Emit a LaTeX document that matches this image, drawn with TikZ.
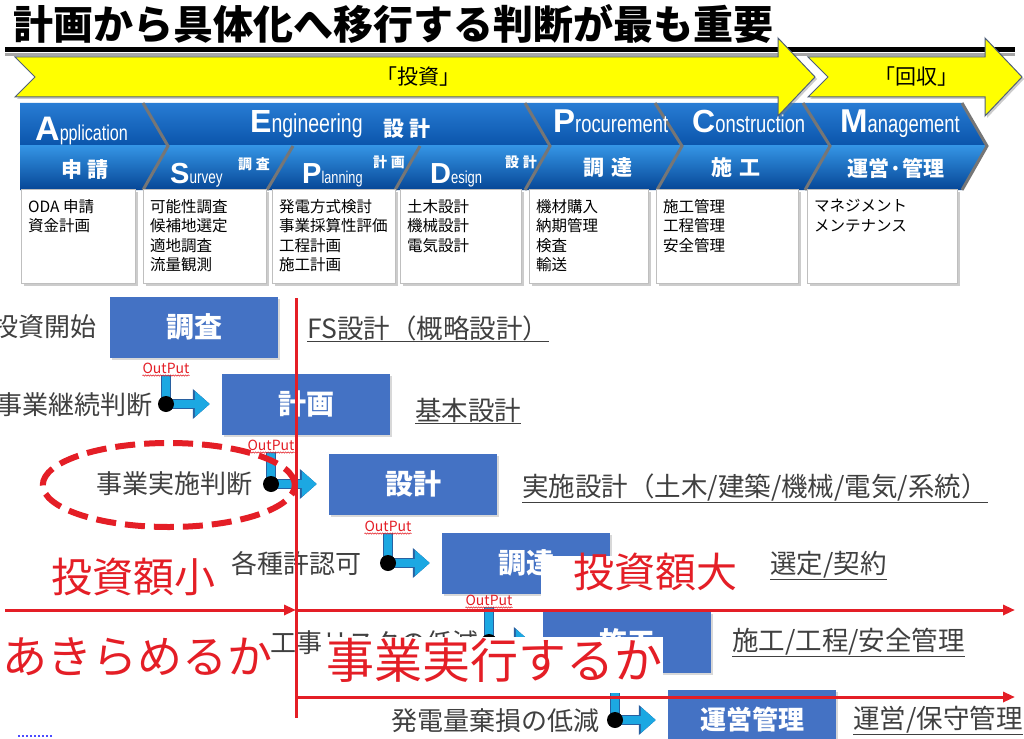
\documentclass[tikz,border=0pt]{standalone}
\usepackage{fontspec}
\setmainfont{Noto Sans CJK JP}
\newfontfamily\latinfont{Liberation Sans}
\newfontfamily\narrowfont[FakeStretch=0.75]{Liberation Sans}
\usetikzlibrary{arrows.meta, positioning, shadows, decorations.pathmorphing}

\definecolor{procblue}{RGB}{68,114,196}
\definecolor{alertred}{RGB}{228,30,38}
\definecolor{flowcyan}{RGB}{28,168,226}
\definecolor{flowedge}{RGB}{40,96,160}
\definecolor{labelgray}{RGB}{64,64,64}
\definecolor{bandedge}{RGB}{118,118,118}
\definecolor{bandtopA}{RGB}{40,124,212}
\definecolor{bandbotA}{RGB}{10,84,170}
\definecolor{bandtopB}{RGB}{52,148,228}
\definecolor{bandbotB}{RGB}{6,70,150}
\definecolor{chevronyellow}{RGB}{255,255,0}
\definecolor{chevronedge}{RGB}{80,96,120}

% big initial letter, rest condensed
\newcommand{\initword}[4]{{\latinfont\bfseries\fontsize{#1}{#1}\selectfont #2}{\narrowfont\fontsize{#3}{#3}\selectfont #4}}

\tikzset{
  chevron/.style={fill=chevronyellow, draw=chevronedge, line width=1pt,
    drop shadow={shadow xshift=2pt, shadow yshift=-2pt, opacity=0.4}},
  sep/.style={draw=bandedge, line width=3pt},
  bannerword/.style={text=white, inner sep=0pt, anchor=base west},
  bannerjp/.style={text=white, inner sep=0pt, font=\fontsize{21}{21}\selectfont\bfseries},
  bannersub/.style={text=white, inner sep=0pt, font=\fontsize{14}{14}\selectfont\bfseries},
  infobox/.style={fill=white, draw=black!25, line width=0.6pt,
    drop shadow={shadow xshift=3pt, shadow yshift=-3pt, opacity=0.4}},
  boxtext/.style={anchor=north west, align=left, inner sep=0pt,
    font=\fontsize{15.5}{19.5}\selectfont},
  procbox/.style={fill=procblue, text=white, minimum width=168pt, minimum height=61pt,
    inner sep=0pt, font=\fontsize{28}{28}\selectfont\bfseries,
    drop shadow={shadow xshift=2pt, shadow yshift=-2pt, opacity=0.3}},
  sidelabel/.style={text=labelgray, inner sep=0pt, font=\fontsize{26}{26}\selectfont},
  deliv/.style={text=labelgray, anchor=west, inner xsep=0pt, inner ysep=1pt,
    font=\fontsize{26.5}{26.5}\selectfont},
  outlabel/.style={text=alertred, inner sep=0pt, font=\fontsize{14}{14}\selectfont},
  wavy/.style={alertred, line width=0.5pt, decorate,
    decoration={snake, amplitude=0.7pt, segment length=2.5pt}},
  outarrow/.style={draw=flowcyan, line width=8pt, -{Triangle[length=15pt,width=25pt]},
    preaction={draw=flowedge, line width=10pt, -{Triangle[length=17pt,width=29pt]}}},
  bigred/.style={text=alertred, inner sep=0pt},
  redline/.style={draw=alertred, line width=3pt},
  redarrow/.style={redline, -{Triangle[length=12pt,width=10pt]}}
}

\begin{document}
\begin{tikzpicture}[x=1pt, y=-1pt]
  \useasboundingbox (0,0) rectangle (1024,738);
  \fill[white] (0,0) rectangle (1024,738);

  % title
  \node[anchor=west, inner sep=0pt, font=\fontsize{40}{40}\selectfont\bfseries] (title)
    at (13,24) {計画から具体化へ移行する判断が最も重要};

  % blue phase band
  \begin{scope}
    \clip (20,103) -- (962,103) -- (987,146) -- (962,190) -- (20,190) -- cycle;
    \fill[top color=bandtopA, bottom color=bandbotA] (20,103) rectangle (990,146);
    \fill[top color=bandtopB, bottom color=bandbotB] (20,146) rectangle (990,190);
  \end{scope}
  \foreach \xa/\xb/\xc in {143/168/143, 525/550/525, 655/682/657, 803/830/805, 962/987/962}
    \draw[sep] (\xa,103) -- (\xb,146) -- (\xc,190);
  \foreach \xa/\xb in {293/267, 420/395}
    \draw[sep] (\xa,146) -- (\xb,190);

  \node[bannerword] (app) at (35,141) {\initword{34}{A}{21.5}{pplication}};
  \node[bannerjp] (shinsei) at (85,170) {申\hspace{5pt}請};
  \node[bannerword] (eng) at (250,133) {\initword{32}{E}{26}{ngineering}};
  \node[bannerjp] (engjp) at (407,129) {設\hspace{5pt}計};
  \node[bannerword] (srv) at (170,183) {\initword{29}{S}{18}{urvey}};
  \node[bannersub] (srvjp) at (254,164) {調\hspace{4pt}査};
  \node[bannerword] (pln) at (302,183) {\initword{29}{P}{17}{lanning}};
  \node[bannersub] (plnjp) at (389,162) {計\hspace{4pt}画};
  \node[bannerword] (dsn) at (430,183) {\initword{29}{D}{17.3}{esign}};
  \node[bannersub] (dsnjp) at (521,162) {設\hspace{4pt}計};
  \node[bannerword] (prc) at (553,133) {\initword{33}{P}{24.5}{rocurement}};
  \node[bannerjp] (prcjp) at (608,168) {調\hspace{7pt}達};
  \node[bannerword] (cns) at (692,133) {\initword{32}{C}{24.5}{onstruction}};
  \node[bannerjp] (cnsjp) at (736,168) {施\hspace{7pt}工};
  \node[bannerword] (mgt) at (840,133) {\initword{33}{M}{24.5}{anagement}};
  \node[bannerjp] (mgtjp) at (896,168) {運営·管理};

  % rule under the title and the yellow phase arrows
  \draw[line width=3pt, black!35] (5,55) -- (1015,55);
  \draw[line width=5pt] (5,50) -- (1015,50);
  \fill[chevron] (15,57) -- (778,57) -- (778,38) -- (815,77) -- (778,116)
    -- (778,97) -- (15,97) -- (35,77) -- cycle;
  \fill[chevron] (808,57) -- (985,57) -- (985,38) -- (1022,77) -- (985,116)
    -- (985,97) -- (808,97) -- (828,77) -- cycle;
  \node[font=\fontsize{21}{21}\selectfont] (toshi) at (418,77) {「投資」};
  \node[font=\fontsize{21}{21}\selectfont] (kaishu) at (916,77) {「回収」};

  % task boxes
  \foreach \xa/\xb/\n/\txt in {
      21/135/appl/{ODA 申請\\資金計画},
      143/266/surv/{可能性調査\\候補地選定\\適地調査\\流量観測},
      272/395/plan/{発電方式検討\\事業採算性評価\\工程計画\\施工計画},
      400/521/desg/{土木設計\\機械設計\\電気設計},
      529/648/proc/{機材購入\\納期管理\\検査\\輸送},
      656/798/cons/{施工管理\\工程管理\\安全管理},
      807/957/mgmt/{マネジメント\\メンテナンス}} {
    \draw[infobox] (\xa,189) rectangle (\xb,283);
    \node[boxtext] (\n) at (\xa+7,199) {\txt};
  }

  % process steps
  \node[procbox] (chosa) at (194,327) {調査};
  \node[procbox] (keikaku) at (306,404) {計画};
  \node[procbox] (sekkei) at (413,484) {設計};
  \node[procbox] (chotatsu) at (526,563) {調達};
  \node[procbox] (seko) at (627,642) {施工};
  \node[procbox, font=\fontsize{26}{26}\selectfont\bfseries] (unei) at (752,720) {運営管理};

  % outputs
  \coordinate (o1) at (166,375);
  \coordinate (o2) at (271,452);
  \coordinate (o3) at (388,533);
  \coordinate (o4) at (489,607);
  \coordinate (o5) at (615,675);
  \foreach \o/\nxt in {o1/keikaku, o2/sekkei, o3/chotatsu, o4/seko, o5/unei} {
    \draw[outarrow] (\o) |- ([xshift=-12pt]\nxt.west);
    \fill (\o |- \nxt.west) circle (8pt);
  }
  \foreach \o/\n in {o1/out1, o2/out2, o3/out3, o4/out4} {
    \node[outlabel, above=1pt of \o] (\n) {OutPut};
    \draw[wavy] ([yshift=-1.5pt]\n.south west) -- ([yshift=-1.5pt]\n.south east);
  }

  % decisions
  \node[sidelabel, anchor=east] (kaishi) at (97,327) {投資開始};
  \node[sidelabel, anchor=east] (keizoku) at (153,405) {事業継続判断};
  \node[sidelabel, anchor=east] (jisshi) at (253,484) {事業実施判断};
  \node[sidelabel, anchor=east] (kyoninka) at (362,564) {各種許認可};
  \node[sidelabel, anchor=west] (risk) at (270,643) {工事リスクの低減};
  \node[sidelabel, anchor=east] (kison) at (600,721) {発電量棄損の低減};

  % deliverables
  \node[deliv] (fs) at (307,328) {FS設計（概略設計）};
  \node[deliv] (kihon) at (415,410) {基本設計};
  \node[deliv] (jissi) at (522,488) {実施設計（土木/建築/機械/電気/系統）};
  \node[deliv] (sentei) at (770,565) {選定/契約};
  \node[deliv] (kanri) at (732,642) {施工/工程/安全管理};
  \node[deliv] (hoshu) at (853,720) {運営/保守管理};
  \foreach \n in {fs, kihon, jissi, sentei, kanri, hoshu}
    \draw[labelgray, line width=1.1pt] (\n.south west) -- (\n.south east);

  % white text boxes on top
  \fill[white] (541,556) rectangle (748,600);
  \fill[white] (325,637) rectangle (663,693);
  \node[bigred, font=\fontsize{41}{41}\selectfont] (small) at (133,577) {投資額小};
  \node[bigred, font=\fontsize{41}{41}\selectfont] (large) at (655,572) {投資額大};
  \node[bigred, font=\fontsize{45}{45}\selectfont] (giveup) at (137,657) {あきらめるか};
  \node[bigred, font=\fontsize{48}{48}\selectfont] (goahead) at (494,660) {事業実行するか};

  % decision axes
  \coordinate (vtop) at (296,298);
  \coordinate (vbot) at (296,718);
  \coordinate (hleft) at (5,610);
  \coordinate (hmid) at (296,610);
  \coordinate (hend) at (1015,610);
  \coordinate (lmid) at (296,697);
  \coordinate (lend) at (1015,697);
  \draw[redline] (vtop) -- (vbot);
  \draw[redarrow] (hleft) -- (hmid);
  \draw[redarrow] (hmid) -- (hend);
  \draw[redarrow] (lmid) -- (lend);
  \draw[alertred, line width=6pt, dash pattern=on 20pt off 9pt]
    (jisshi.center) ++(-6,1) ellipse [x radius=126pt, y radius=42pt];

  \draw[blue!70, line width=1.5pt, dash pattern=on 2pt off 2pt] (18,736) -- (52,736);
\end{tikzpicture}
\end{document}
